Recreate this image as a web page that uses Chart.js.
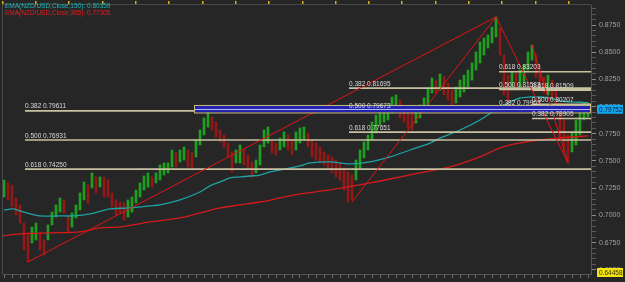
<!DOCTYPE html>
<html>
<head>
<meta charset="utf-8">
<script src="https://cdn.jsdelivr.net/npm/chart.js@4.4.0/dist/chart.umd.min.js"></script>
<style>
  html, body { margin: 0; padding: 0; background: #262626; }
</style>
</head>
<body>
<canvas id="fxChart" width="625" height="282"></canvas>
<script>
// NZD/USD bars (one bar every ~4px)
const highs = [
  0.7325, 0.7298, 0.7279, 0.7160, 0.7096, 0.6930, 0.6838, 0.6893, 0.6930, 0.6838,
  0.6774, 0.6912, 0.7031, 0.7096, 0.7160, 0.7142, 0.6985, 0.7022, 0.7096, 0.7206,
  0.7307, 0.7279, 0.7390, 0.7353, 0.7353, 0.7353, 0.7325, 0.7206, 0.7142, 0.7123,
  0.7114, 0.7142, 0.7169, 0.7233, 0.7298, 0.7362, 0.7390, 0.7353, 0.7390, 0.7463,
  0.7482, 0.7482, 0.7601, 0.7574, 0.7601, 0.7629, 0.7601, 0.7574, 0.7693, 0.7785,
  0.7895, 0.7969, 0.7904, 0.7858, 0.7785, 0.7739, 0.7665, 0.7583, 0.7601, 0.7647,
  0.7601, 0.7555, 0.7491, 0.7509, 0.7647, 0.7785, 0.7812, 0.7693, 0.7665, 0.7711,
  0.7767, 0.7739, 0.7693, 0.7767, 0.7803, 0.7812, 0.7757, 0.7693, 0.7665, 0.7629,
  0.7583, 0.7555, 0.7537, 0.7509, 0.7482, 0.7436, 0.7399, 0.7371, 0.7509, 0.7601,
  0.7675, 0.7739, 0.7858, 0.7923, 0.7987, 0.7996, 0.8015, 0.8088, 0.8107, 0.8061,
  0.8006, 0.7950, 0.7950, 0.7987, 0.8015, 0.8079, 0.8171, 0.8263, 0.8244, 0.8300,
  0.8281, 0.8217, 0.8153, 0.8180, 0.8244, 0.8290, 0.8336, 0.8401, 0.8502, 0.8594,
  0.8631, 0.8658, 0.8732, 0.8824, 0.8722, 0.8474, 0.8290, 0.8318, 0.8309, 0.8336,
  0.8382, 0.8502, 0.8566, 0.8474, 0.8336, 0.8272, 0.8290, 0.8244, 0.8199, 0.8033,
  0.7877, 0.7739, 0.7767, 0.7877, 0.7969, 0.8033, 0.8033
];
const lows = [
  0.7169, 0.7142, 0.7077, 0.7004, 0.6930, 0.6682, 0.6572, 0.6746, 0.6774, 0.6682,
  0.6636, 0.6774, 0.6912, 0.6985, 0.7031, 0.7022, 0.6838, 0.6893, 0.6976, 0.7050,
  0.7142, 0.7114, 0.7252, 0.7206, 0.7261, 0.7169, 0.7169, 0.7077, 0.7004, 0.7022,
  0.6958, 0.6985, 0.7031, 0.7114, 0.7169, 0.7233, 0.7261, 0.7261, 0.7298, 0.7325,
  0.7371, 0.7390, 0.7445, 0.7445, 0.7491, 0.7509, 0.7445, 0.7436, 0.7537, 0.7647,
  0.7739, 0.7812, 0.7785, 0.7721, 0.7675, 0.7629, 0.7537, 0.7399, 0.7482, 0.7482,
  0.7463, 0.7436, 0.7353, 0.7390, 0.7463, 0.7629, 0.7665, 0.7574, 0.7555, 0.7601,
  0.7629, 0.7601, 0.7555, 0.7601, 0.7665, 0.7693, 0.7629, 0.7537, 0.7509, 0.7482,
  0.7463, 0.7436, 0.7390, 0.7353, 0.7325, 0.7233, 0.7123, 0.7142, 0.7325, 0.7436,
  0.7528, 0.7601, 0.7693, 0.7757, 0.7831, 0.7858, 0.7877, 0.7941, 0.7969, 0.7895,
  0.7858, 0.7803, 0.7785, 0.7849, 0.7895, 0.7950, 0.8015, 0.8125, 0.8125, 0.8153,
  0.8107, 0.8061, 0.7969, 0.8033, 0.8088, 0.8134, 0.8180, 0.8244, 0.8336, 0.8401,
  0.8474, 0.8539, 0.8585, 0.8640, 0.8474, 0.8107, 0.7987, 0.8153, 0.8153, 0.8180,
  0.8226, 0.8336, 0.8428, 0.8272, 0.8180, 0.8125, 0.8107, 0.8061, 0.7996, 0.7693,
  0.7583, 0.7482, 0.7583, 0.7647, 0.7739, 0.7877, 0.7904
];

// EMA curves as [bar index, value]
const ema150 = [
  [0, 0.7050], [2.25, 0.7059], [4, 0.7041], [9, 0.6995], [14, 0.6995], [17.25, 0.6995],
  [21.5, 0.7013], [26.5, 0.7059], [31.5, 0.7068], [36.5, 0.7087], [39, 0.7096], [44, 0.7142],
  [49, 0.7215], [51.5, 0.7271], [54, 0.7307], [56.5, 0.7344], [59, 0.7353], [61.5, 0.7362],
  [64, 0.7371], [66.5, 0.7399], [69, 0.7417], [74, 0.7454], [76.5, 0.7482], [81.5, 0.7491],
  [86.5, 0.7473], [91.5, 0.7491], [96.5, 0.7537], [101.5, 0.7601], [106.5, 0.7665], [109, 0.7711],
  [114, 0.7785], [119, 0.7877], [124, 0.7996], [126.5, 0.8042], [129, 0.8079], [131.5, 0.8088],
  [134, 0.8088], [136.5, 0.8079], [139, 0.8052], [141.5, 0.8043], [144, 0.8040], [146, 0.8036]
];
const ema365 = [
  [-0.25, 0.6811], [4, 0.6830], [11.5, 0.6839], [19, 0.6848], [24, 0.6885], [29, 0.6894],
  [36.5, 0.6940], [44, 0.6976], [49, 0.7022], [54, 0.7068], [59, 0.7096], [64, 0.7123],
  [69, 0.7160], [74, 0.7197], [81.5, 0.7234], [91.5, 0.7298], [101.5, 0.7372], [111.5, 0.7445],
  [119, 0.7537], [124, 0.7620], [129, 0.7666], [134, 0.7693], [139, 0.7712], [144, 0.7725],
  [146, 0.7731]
];
const ema150Last = 0.80359;
const ema365Last = 0.77305;

// Fibonacci retracements: ratio, level, first bar
const fibRatios = ['0.382', '0.500', '0.618', '0.382', '0.500', '0.618',
                   '0.618', '0.500', '0.382', '0.618', '0.500', '0.382'];
const fibLevels = [0.79611, 0.76931, 0.74250, 0.81695, 0.79673, 0.77651,
                   0.83203, 0.81583, 0.79963, 0.81509, 0.80207, 0.78905];
const fibStart = [5.25, 5.25, 5.25, 86.25, 86.25, 86.25,
                  123.75, 123.75, 123.75, 132, 132, 132];

// trend lines: [bar, price, bar, price]
const trendLines = [
  [6, 0.6572, 123, 0.8824],
  [87, 0.7123, 123, 0.8824],
  [123, 0.8824, 141, 0.7482],
  [132, 0.8566, 141, 0.7482]
];

// highlighted zone
const zoneStart = 47.5;
const zoneTop = 0.8015;
const zoneBottom = 0.7946;

const lastPrice = 0.79752;
const lowPrice = 0.64458;

const xMin = -0.25;
const xMax = 146.75;
const yMin = 0.6461;
const yMax = 0.8934;

const pts = arr => arr.map(p => ({ x: p[0], y: p[1] }));
const hline = (from, v) => [{ x: from, y: v }, { x: xMax, y: v }];

const mids = highs.map((h, i) => (h + lows[i]) / 2);
const barColors = mids.map((m, i) => (i === 0 || m >= mids[i - 1]) ? '#1f9f1f' : '#931818');

const datasets = [];

datasets.push({
  type: 'bar',
  data: highs.map((h, i) => ({ x: i, y: [lows[i], h] })),
  backgroundColor: barColors,
  barThickness: 2,
  order: 10
});

datasets.push({
  type: 'line',
  data: pts(ema150),
  borderColor: '#1fa3a3',
  borderWidth: 1.3,
  pointRadius: 0,
  tension: 0.3,
  order: 9
});
datasets.push({
  type: 'line',
  data: pts(ema365),
  borderColor: '#d41a1a',
  borderWidth: 1.3,
  pointRadius: 0,
  tension: 0.3,
  order: 9
});

fibLevels.forEach((v, k) => {
  datasets.push({
    type: 'line',
    data: hline(fibStart[k], v),
    borderColor: '#c9c2a2',
    borderWidth: 1.6,
    pointRadius: 0,
    order: 5
  });
});

trendLines.forEach(t => {
  datasets.push({
    type: 'line',
    data: [{ x: t[0], y: t[1] }, { x: t[2], y: t[3] }],
    borderColor: '#e01414',
    borderWidth: 1,
    pointRadius: 0,
    order: 4
  });
});

const overlay = {
  id: 'overlay',
  beforeDraw(chart) {
    const ctx = chart.ctx;
    ctx.save();
    ctx.fillStyle = '#262626';
    ctx.fillRect(0, 0, chart.width, chart.height);
    ctx.restore();
  },
  afterDatasetsDraw(chart) {
    const ctx = chart.ctx;
    const a = chart.chartArea;
    const x = chart.scales.x;
    const y = chart.scales.y;
    ctx.save();

    // frame
    ctx.strokeStyle = '#4a4a4a';
    ctx.lineWidth = 1;
    ctx.beginPath();
    ctx.moveTo(a.left - 0.5, a.bottom);
    ctx.lineTo(a.left - 0.5, a.top - 0.5);
    ctx.lineTo(a.right, a.top - 0.5);
    ctx.stroke();

    // zone box over the retracement lines, last price line inside it
    const x0 = x.getPixelForValue(zoneStart);
    const x1 = x.getPixelForValue(xMax);
    const y0 = y.getPixelForValue(zoneTop);
    const y1 = y.getPixelForValue(zoneBottom);
    ctx.fillStyle = '#2323b2';
    ctx.fillRect(x0, y0, x1 - x0, y1 - y0);
    ctx.strokeStyle = '#c8bc78';
    ctx.strokeRect(x0 + 0.5, y0 + 0.5, x1 - x0 - 1, y1 - y0);
    const yp = Math.round(y.getPixelForValue(lastPrice)) + 0.5;
    ctx.strokeStyle = '#b8b8f4';
    ctx.beginPath();
    ctx.moveTo(x0 + 1, yp);
    ctx.lineTo(x1 - 1, yp);
    ctx.stroke();

    // fib labels
    ctx.font = '6.5px "Liberation Sans"';
    ctx.fillStyle = '#dcdcdc';
    ctx.textBaseline = 'bottom';
    ctx.textAlign = 'left';
    fibLevels.forEach((v, k) => {
      ctx.fillText(fibRatios[k] + ' ' + v.toFixed(5), x.getPixelForValue(fibStart[k]), y.getPixelForValue(v) - 1);
    });

    // indicator legend
    ctx.font = '6.5px "Liberation Sans"';
    ctx.textBaseline = 'middle';
    ctx.fillStyle = '#22b4b4';
    ctx.fillText('EMA(NZD/USD,Close,150): ' + ema150Last.toFixed(5), 5, 6);
    ctx.fillStyle = '#e02020';
    ctx.fillText('EMA(NZD/USD,Close,365): ' + ema365Last.toFixed(5), 5, 13);

    // price tags on the axis
    const tag = (v, bg, fg, py) => {
      ctx.fillStyle = bg;
      ctx.fillRect(a.right + 6, py - 4.5, 26, 9);
      ctx.fillStyle = fg;
      ctx.fillText(v.toFixed(5), a.right + 8, py + 0.5);
    };
    tag(lastPrice, '#12a6ee', '#0a2030', y.getPixelForValue(lastPrice));
    tag(lowPrice, '#f2e410', '#303000', Math.min(y.getPixelForValue(lowPrice), a.bottom - 1.5));

    ctx.restore();
  }
};

new Chart(document.getElementById('fxChart').getContext('2d'), {
  type: 'bar',
  data: { datasets: datasets },
  plugins: [overlay],
  options: {
    responsive: false,
    animation: false,
    events: [],
    layout: { padding: { left: 3, top: 1, right: 0, bottom: 0 } },
    plugins: {
      legend: { display: false },
      tooltip: { enabled: false }
    },
    scales: {
      x: {
        type: 'linear',
        position: 'bottom',
        offset: false,
        min: xMin,
        max: xMax,
        afterBuildTicks(s) {
          s.ticks = [];
          for (let v = 0; v <= xMax; v += 2) s.ticks.push({ value: v });
        },
        afterFit(s) { s.height = 8; s.paddingLeft = 0; s.paddingRight = 0; },
        border: { color: '#555555' },
        grid: { drawOnChartArea: false, offset: false, tickLength: 4, color: '#6a6a6a' },
        ticks: { display: false }
      },
      x2: {
        type: 'linear',
        position: 'top',
        offset: false,
        min: xMin,
        max: xMax,
        afterBuildTicks(s) {
          s.ticks = [];
          for (let v = -0.4; v <= xMax; v += 8.33) s.ticks.push({ value: v });
        },
        afterFit(s) { s.height = 4; s.paddingLeft = 0; s.paddingRight = 0; },
        border: { display: false },
        grid: { drawOnChartArea: false, offset: false, tickLength: 4, color: '#d8b21c', lineWidth: 1.5 },
        ticks: { display: false }
      },
      y: {
        type: 'linear',
        position: 'right',
        min: yMin,
        max: yMax,
        afterBuildTicks(s) {
          s.ticks = [];
          for (let k = 130; k <= 178; k++) s.ticks.push({ value: k * 0.005 });
        },
        afterFit(s) { s.width = 34; s.paddingTop = 0; s.paddingBottom = 0; },
        border: { color: '#555555' },
        grid: {
          drawOnChartArea: false,
          tickLength: 5,
          color: ctx => (Math.round(ctx.tick.value * 1000) % 25 === 0 ? '#8a8a8a' : '#5a5a5a')
        },
        ticks: {
          autoSkip: false,
          color: '#a0a0a0',
          font: { size: 7, family: 'Liberation Sans' },
          padding: 3,
          callback: v => (Math.round(v * 1000) % 25 === 0 ? v.toFixed(4) : '')
        }
      }
    }
  }
});
</script>
</body>
</html>
